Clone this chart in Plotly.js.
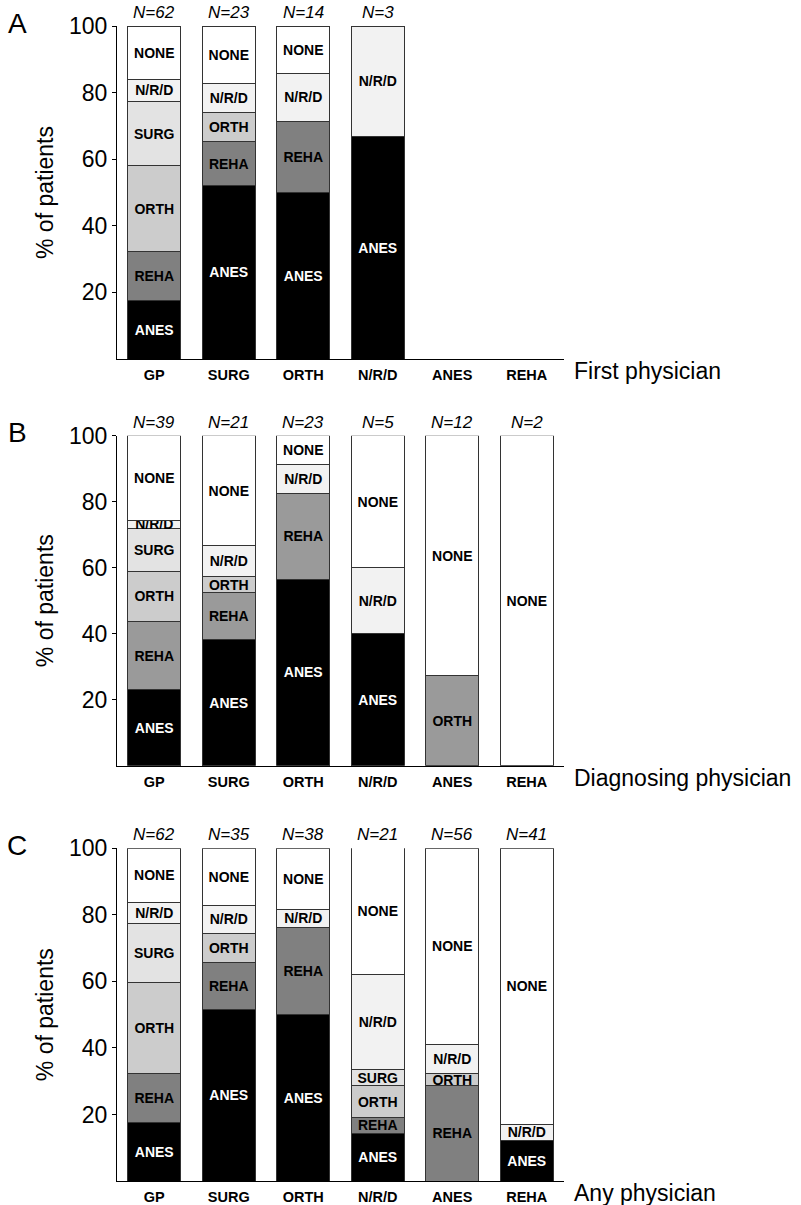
<!DOCTYPE html>
<html>
<head>
<meta charset="utf-8">
<script src="https://cdn.plot.ly/plotly-3.0.1.min.js"></script>
<style>html,body{margin:0;padding:0;background:#fff;}#chart{width:801px;height:1205px;}</style>
</head>
<body>
<div id="chart"></div>
<script>
// Categories (physician type)
const categories = ['GP', 'SURG', 'ORTH', 'N/R/D', 'ANES', 'REHA'];
const segments = ['ANES', 'REHA', 'ORTH', 'SURG', 'N/R/D', 'NONE'];

// Panel A: first physician (% of patients)
const A_ANES = [17.7, 52.2, 50.0, 66.7, 0, 0];
const A_REHA = [14.5, 13.0, 21.4, 0, 0, 0];
const A_ORTH = [25.8, 8.7, 0, 0, 0, 0];
const A_SURG = [19.4, 0, 0, 0, 0, 0];
const A_NRD  = [6.5, 8.7, 14.3, 33.3, 0, 0];
const A_NONE = [16.1, 17.4, 14.3, 0, 0, 0];
const A_N    = ['62', '23', '14', '3', '', ''];

// Panel B: diagnosing physician
const B_ANES = [23.1, 38.1, 56.5, 40.0, 0, 0];
const B_REHA = [20.5, 14.3, 26.1, 0, 0, 0];
const B_ORTH = [15.4, 4.8, 0, 0, 27.3, 0];
const B_SURG = [12.8, 0, 0, 0, 0, 0];
const B_NRD  = [2.6, 9.5, 8.7, 20.0, 0, 0];
const B_NONE = [25.6, 33.3, 8.7, 40.0, 72.7, 100];
const B_N    = ['39', '21', '23', '5', '12', '2'];

// Panel C: any physician
const C_ANES = [17.7, 51.4, 50.0, 14.3, 0, 12.2];
const C_REHA = [14.5, 14.3, 26.3, 4.8, 28.6, 0];
const C_ORTH = [27.4, 8.6, 0, 9.5, 3.6, 0];
const C_SURG = [17.7, 0, 0, 4.8, 0, 0];
const C_NRD  = [6.5, 8.6, 5.3, 28.6, 8.9, 4.9];
const C_NONE = [16.1, 17.1, 18.4, 38.1, 58.9, 82.9];
const C_N    = ['62', '35', '38', '21', '56', '41'];

const yTicks = [20, 40, 60, 80, 100];
const panelLetters = ['A', 'B', 'C'];
const xTitles = ['First physician', 'Diagnosing physician', 'Any physician'];

const FONT = 'Liberation Sans, Arial, sans-serif';
const W = 801, H = 1205;

const panels = [
  {vals: [A_ANES, A_REHA, A_ORTH, A_SURG, A_NRD, A_NONE], n: A_N, rehaColor: '#808080', orthAnesColor: '#cccccc', yTop: 26, yBot: 359},
  {vals: [B_ANES, B_REHA, B_ORTH, B_SURG, B_NRD, B_NONE], n: B_N, rehaColor: '#9a9a9a', orthAnesColor: '#9a9a9a', yTop: 435.7, yBot: 765.7},
  {vals: [C_ANES, C_REHA, C_ORTH, C_SURG, C_NRD, C_NONE], n: C_N, rehaColor: '#808080', orthAnesColor: '#cccccc', yTop: 848.3, yBot: 1181}
];

const xDom = [117 / W, 564 / W];
const traces = [];
const layout = {
  width: W, height: H,
  margin: {l: 0, r: 0, t: 0, b: 0},
  paper_bgcolor: '#fff', plot_bgcolor: '#fff',
  barmode: 'stack', bargap: 0.285,
  showlegend: false,
  font: {family: FONT, color: '#000'},
  uniformtext: {mode: 'show', minsize: 14},
  annotations: []
};

panels.forEach((p, i) => {
  const sfx = i === 0 ? '' : String(i + 1);
  const xa = 'x' + sfx, ya = 'y' + sfx;
  const segColors = ['#000000', p.rehaColor, '#cccccc', '#e3e3e3', '#f2f2f2', '#ffffff'];
  segments.forEach((seg, s) => {
    const v = p.vals[s];
    let colors = categories.map(() => segColors[s]);
    if (seg === 'ORTH') colors = categories.map(c => c === 'ANES' ? p.orthAnesColor : segColors[s]);
    traces.push({
      type: 'bar', x: categories, y: v, xaxis: xa, yaxis: ya, name: seg,
      text: v.map(d => d > 0 ? seg : ''),
      textposition: 'inside', insidetextanchor: 'middle', textangle: 0,
      insidetextfont: {family: FONT, size: 14, weight: 700, color: seg === 'ANES' ? '#fff' : '#000'},
      marker: {color: colors, line: {color: '#333', width: 1}},
      hoverinfo: 'x+y+name'
    });
  });
  const yDom = [1 - p.yBot / H, 1 - p.yTop / H];
  layout['xaxis' + sfx] = {
    domain: xDom, anchor: ya, type: 'category', categoryorder: 'array', categoryarray: categories,
    range: [-0.5, 5.5], showline: true, linecolor: '#000', linewidth: 1, ticks: '',
    showgrid: false, zeroline: false, fixedrange: true, ticklabelstandoff: 3,
    tickfont: {family: FONT, size: 14.5, weight: 700, color: '#000'}
  };
  layout['yaxis' + sfx] = {
    domain: yDom, anchor: xa, range: [0, 100], tickvals: yTicks, ticktext: yTicks.map(String),
    showline: true, linecolor: '#000', linewidth: 1, ticks: 'outside', ticklen: 4, tickcolor: '#000',
    showgrid: false, zeroline: false, fixedrange: true,
    tickfont: {family: FONT, size: 23, color: '#000'},
    title: {text: '% of patients', font: {family: FONT, size: 23, color: '#000'}, standoff: 8}
  };
  // N labels above bars
  categories.forEach((c, k) => {
    if (p.n[k]) {
      layout.annotations.push({
        xref: xa, yref: ya, x: c, y: 100, text: 'N=' + p.n[k], showarrow: false,
        yanchor: 'bottom', yshift: 2,
        font: {family: FONT, size: 17, style: 'italic', color: '#000'}
      });
    }
  });
  // panel letter
  layout.annotations.push({
    xref: 'paper', yref: 'paper', x: 17 / W, y: 1 - (p.yTop - 3) / H, text: panelLetters[i],
    showarrow: false, xanchor: 'center', yanchor: 'middle',
    font: {family: FONT, size: 28, color: '#000'}
  });
  // x-axis title to the right of the axis
  layout.annotations.push({
    xref: 'paper', yref: 'paper', x: 572 / W, y: 1 - (p.yBot + 12) / H, text: xTitles[i],
    showarrow: false, xanchor: 'left', yanchor: 'middle',
    font: {family: FONT, size: 23, color: '#000'}
  });
});

Plotly.newPlot('chart', traces, layout, {staticPlot: true, displayModeBar: false});
</script>
</body>
</html>
